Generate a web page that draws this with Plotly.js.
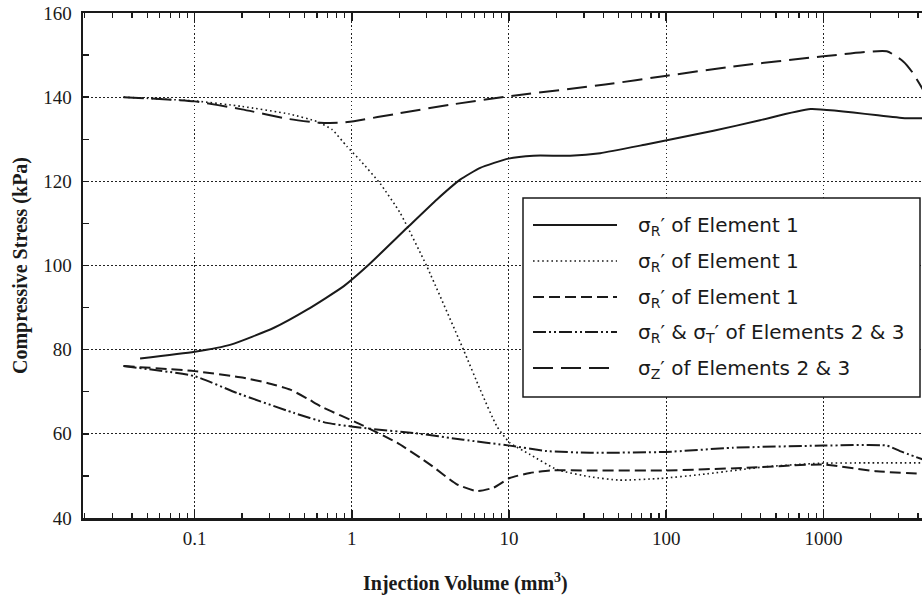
<!DOCTYPE html>
<html>
<head>
<meta charset="utf-8">
<script src="https://cdn.plot.ly/plotly-3.0.1.min.js"></script>
<style>
  html, body { margin: 0; padding: 0; background: #fff; }
  #chart { width: 922px; height: 598px; }
</style>
</head>
<body>
<div id="chart"></div>
<script>
// Injection volume (mm^3) and compressive stress (kPa) for each curve
const volSolid    = [0.045, 0.1, 0.17, 0.32, 0.52, 0.89, 1.25, 2.24, 3.48, 4.89, 6.56, 9.9, 14.3, 24.5, 38, 73, 200, 395, 830, 3300, 4300];
const stressSolid = [77.9, 79.5, 81.2, 85.2, 89.5, 95.1, 99.8, 108.9, 115.7, 120.4, 123.2, 125.4, 126.1, 126.1, 126.7, 128.7, 132.0, 134.5, 137.2, 135.0, 135.0];

const volDotted    = [0.0353, 0.1, 0.2, 0.4, 0.6, 0.75, 0.93, 1.13, 1.52, 2.03, 3.0, 5.13, 6.56, 8.37, 10.1, 13.6, 20.2, 32.8, 50, 92, 164, 436, 950, 1900, 4300];
const stressDotted = [140.0, 139.1, 137.8, 136.0, 134.2, 132.3, 128.3, 125.0, 119.4, 112.5, 99.8, 80.0, 70.5, 61.8, 57.9, 55.1, 51.5, 49.8, 49.0, 49.4, 50.3, 52.2, 53.0, 53.1, 53.1];

const volDashed    = [0.0353, 0.1, 0.205, 0.29, 0.406, 0.52, 0.66, 1.1, 1.94, 3.15, 4.66, 6.25, 7.97, 10.1, 13.6, 18.3, 32.8, 100, 310, 1000, 2180, 4300];
const stressDashed = [76.1, 74.9, 73.3, 72.1, 70.5, 68.4, 66.2, 62.5, 57.9, 52.7, 48.0, 46.4, 47.2, 49.5, 50.7, 51.3, 51.3, 51.3, 51.9, 52.7, 51.1, 50.5];

const volRT    = [0.0353, 0.1, 0.186, 0.426, 0.695, 1.02, 1.31, 2.47, 5.13, 10.1, 17.4, 32.8, 100, 267, 1000, 2530, 3070, 4300];
const stressRT = [76.1, 73.7, 69.7, 65.0, 62.6, 61.7, 61.2, 60.2, 58.6, 57.2, 55.9, 55.5, 55.7, 56.7, 57.2, 57.2, 55.9, 53.9];

const volZ    = [0.0353, 0.1, 0.2, 0.4, 0.63, 0.88, 1.03, 2.03, 4.22, 9.9, 40.9, 101, 267, 1000, 2530, 3220, 3650, 4300];
const stressZ = [140.0, 139.0, 137.1, 134.8, 133.9, 134.0, 134.3, 136.2, 138.2, 140.2, 143.0, 145.1, 147.3, 149.7, 150.9, 148.5, 146.1, 141.8];

const xTickVals = [0.1, 1, 10, 100, 1000];
const xTickText = ['0.1', '1', '10', '100', '1000'];
const yTickVals = [40, 60, 80, 100, 120, 140, 160];

const legendLabels = [
  'σ<sub>R</sub>′ of Element 1',
  'σ<sub>R</sub>′ of Element 1',
  'σ<sub>R</sub>′ of Element 1',
  'σ<sub>R</sub>′ &amp; σ<sub>T</sub>′ of Elements 2 &amp; 3',
  'σ<sub>Z</sub>′ of Elements 2 &amp; 3'
];

// line styles shared by curves and legend samples
const INK = '#1a1a1a';
const styles = [
  { color: INK, width: 2,   dash: 'solid' },
  { color: INK, width: 1.6, dash: '1.6px,3px' },
  { color: INK, width: 2,   dash: '11px,5px' },
  { color: INK, width: 2,   dash: '13px,3px,2px,3px,2px,3px' },
  { color: INK, width: 2,   dash: '20px,8px' }
];
const series = [
  [volSolid, stressSolid],
  [volDotted, stressDotted],
  [volDashed, stressDashed],
  [volRT, stressRT],
  [volZ, stressZ]
];

const traces = series.map((s, i) => ({
  x: s[0], y: s[1],
  type: 'scatter', mode: 'lines',
  line: Object.assign({ shape: 'spline', smoothing: 0.5 }, styles[i]),
  name: legendLabels[i],
  showlegend: false,
  hoverinfo: 'x+y'
}));

// minor ticks at 2..9 of every decade
const minorX = [];
for (let k = -2; k <= 3; k++) {
  for (let m = 2; m <= 9; m++) minorX.push(m * Math.pow(10, k));
}

const W = 922, H = 598;
const M = { l: 83, r: 0, t: 13, b: 80 };
const px2x = p => (p - M.l) / (W - M.l - M.r);
const px2y = p => (H - M.b - p) / (H - M.t - M.b);

// boxed key in the right half of the plot
const shapes = [{
  type: 'rect', xref: 'paper', yref: 'paper',
  x0: px2x(523), x1: px2x(920), y0: px2y(397), y1: px2y(198),
  line: { color: INK, width: 1.5 }, fillcolor: '#fff', layer: 'above'
}];
const annotations = [];
const rowY = [225, 261, 297, 332, 368];
rowY.forEach((ry, i) => {
  shapes.push({
    type: 'line', xref: 'paper', yref: 'paper',
    x0: px2x(533), x1: px2x(617), y0: px2y(ry), y1: px2y(ry),
    line: styles[i], layer: 'above'
  });
  annotations.push({
    xref: 'paper', yref: 'paper', x: px2x(636), y: px2y(ry + 1),
    xanchor: 'left', yanchor: 'middle', showarrow: false,
    text: legendLabels[i],
    font: { family: 'DejaVu Sans, Verdana, sans-serif', size: 20, color: INK }
  });
});

const serif = 'Liberation Serif, Times New Roman, serif';

annotations.push({
  xref: 'paper', yref: 'paper', x: px2x(465), y: px2y(582),
  xanchor: 'center', yanchor: 'middle', showarrow: false,
  text: '<b>Injection Volume (mm<sup>3</sup>)</b>',
  font: { family: serif, size: 20, color: INK }
});

const layout = {
  width: W, height: H,
  margin: M,
  paper_bgcolor: '#fff', plot_bgcolor: '#fff',
  showlegend: false,
  font: { family: serif, size: 19, color: INK },
  xaxis: {
    type: 'log',
    range: [Math.log10(0.0195), Math.log10(4240)],
    tickmode: 'array', tickvals: xTickVals, ticktext: xTickText,
    ticks: 'inside', ticklen: 8, tickwidth: 1.5, tickcolor: INK,
    showline: true, linewidth: 2.5, linecolor: INK, mirror: 'ticks',
    showgrid: true, gridcolor: '#222', gridwidth: 1, griddash: '1.5px,2.5px',
    zeroline: false,
    minor: { tickmode: 'array', tickvals: minorX, ticks: 'inside', ticklen: 5, tickwidth: 1.2, tickcolor: INK, showgrid: false },
    tickfont: { family: serif, size: 19, color: INK },
    ticklabelstandoff: 2,
    fixedrange: true
  },
  yaxis: {
    range: [40, 160],
    tickmode: 'array', tickvals: yTickVals,
    ticks: 'inside', ticklen: 6, tickwidth: 1.5, tickcolor: INK,
    showline: true, linewidth: 2.5, linecolor: INK, mirror: false,
    showgrid: true, gridcolor: '#222', gridwidth: 1, griddash: '1.5px,2.5px',
    zeroline: false,
    minor: { dtick: 10, tick0: 0, ticks: 'inside', ticklen: 6, tickwidth: 1.2, tickcolor: INK, showgrid: false },
    tickfont: { family: serif, size: 19, color: INK },
    ticklabelstandoff: 5,
    title: { text: '<b>Compressive Stress (kPa)</b>', font: { family: serif, size: 20, color: INK }, standoff: 10 },
    fixedrange: true
  },
  shapes: shapes,
  annotations: annotations
};

Plotly.newPlot('chart', traces, layout, { displayModeBar: false, staticPlot: true });
</script>
</body>
</html>
